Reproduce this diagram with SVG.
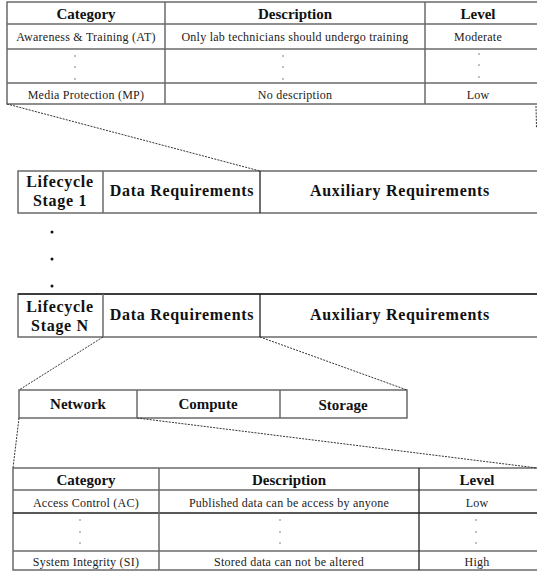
<svg xmlns="http://www.w3.org/2000/svg" width="537" height="571" viewBox="0 0 537 571">
  <style>
    .cell { fill: #ffffff; stroke: #6a6a6a; stroke-width: 1.5; }
    .grid { stroke: #6a6a6a; stroke-width: 1.5; fill: none; }
    .dark { stroke: #222222; stroke-width: 1.3; fill: none; }
    .zoom { stroke: #333333; stroke-width: 1; stroke-dasharray: 2 1.2; fill: none; }
    text { font-family: 'Liberation Serif', 'DejaVu Serif', serif; text-anchor: middle; }
    .hd { font-weight: bold; font-size: 15px; fill: #111; }
    .tx { font-size: 12px; fill: #222; letter-spacing: 0.25px; }
    .big { font-weight: bold; font-size: 16px; fill: #111; letter-spacing: 0.7px; }
    .dot { fill: #555; }
    .bdot { fill: #111; }
  </style>

  <rect width="537" height="571" fill="#ffffff"/>

  <!-- Top table: categories for one lifecycle stage -->
  <g id="table-top">
    <rect class="cell" x="7" y="2" width="532" height="102"/>
    <line class="grid" x1="7" y1="24" x2="539" y2="24"/>
    <line class="grid" x1="7" y1="49" x2="539" y2="49"/>
    <line class="grid" x1="7" y1="83" x2="539" y2="83"/>
    <line class="grid" x1="165" y1="2" x2="165" y2="104"/>
    <line class="grid" x1="425" y1="2" x2="425" y2="104"/>
    <text class="hd" x="86" y="19">Category</text>
    <text class="hd" x="295" y="19">Description</text>
    <text class="hd" x="478" y="19">Level</text>
    <text class="tx" x="86" y="41">Awareness &amp; Training (AT)</text>
    <text class="tx" x="295" y="41">Only lab technicians should undergo training</text>
    <text class="tx" x="478" y="41">Moderate</text>
    <circle class="dot" cx="75" cy="56" r="0.7"/>
    <circle class="dot" cx="75" cy="67" r="0.7"/>
    <circle class="dot" cx="75" cy="79" r="0.7"/>
    <circle class="dot" cx="283" cy="56" r="0.7"/>
    <circle class="dot" cx="283" cy="67" r="0.7"/>
    <circle class="dot" cx="283" cy="79" r="0.7"/>
    <circle class="dot" cx="479" cy="54" r="0.7"/>
    <circle class="dot" cx="479" cy="65" r="0.7"/>
    <circle class="dot" cx="479" cy="77" r="0.7"/>
    <text class="tx" x="86" y="99">Media Protection (MP)</text>
    <text class="tx" x="295" y="99">No description</text>
    <text class="tx" x="478" y="99">Low</text>
  </g>

  <!-- Lifecycle stage 1 -->
  <g id="stage-1">
    <rect class="cell" x="18" y="171" width="521" height="42"/>
    <line class="grid" x1="103" y1="171" x2="103" y2="213"/>
    <line class="dark" x1="260" y1="171" x2="260" y2="213"/>
    <text class="big" x="60" y="187">Lifecycle</text>
    <text class="big" x="60" y="206">Stage 1</text>
    <text class="big" x="182" y="196">Data Requirements</text>
    <text class="big" x="400" y="196">Auxiliary Requirements</text>
  </g>

  <!-- Elided stages -->
  <g id="ellipsis">
    <circle class="bdot" cx="52" cy="232" r="1.5"/>
    <circle class="bdot" cx="52" cy="259" r="1.5"/>
    <circle class="bdot" cx="52" cy="286" r="1.5"/>
  </g>

  <!-- Lifecycle stage N -->
  <g id="stage-n">
    <rect class="cell" x="18" y="294" width="521" height="43"/>
    <line class="dark" x1="18" y1="294" x2="539" y2="294"/>
    <line class="grid" x1="103" y1="294" x2="103" y2="337"/>
    <line class="dark" x1="260" y1="294" x2="260" y2="337"/>
    <text class="big" x="60" y="312">Lifecycle</text>
    <text class="big" x="60" y="331">Stage N</text>
    <text class="big" x="182" y="320">Data Requirements</text>
    <text class="big" x="400" y="320">Auxiliary Requirements</text>
  </g>

  <!-- Data requirement domains -->
  <g id="domains">
    <rect class="cell" x="19" y="390" width="388" height="28"/>
    <line class="grid" x1="137" y1="390" x2="137" y2="418"/>
    <line class="grid" x1="280" y1="390" x2="280" y2="418"/>
    <text class="hd" x="78" y="409">Network</text>
    <text class="hd" x="208" y="409">Compute</text>
    <text class="hd" x="343" y="410">Storage</text>
  </g>

  <!-- Bottom table: categories for the network domain -->
  <g id="table-bottom">
    <rect class="cell" x="13" y="468" width="526" height="102"/>
    <line class="grid" x1="13" y1="490" x2="539" y2="490"/>
    <line class="dark" x1="13" y1="513" x2="539" y2="513"/>
    <line class="grid" x1="13" y1="551" x2="539" y2="551"/>
    <line class="grid" x1="159" y1="468" x2="159" y2="570"/>
    <line class="dark" x1="419" y1="468" x2="419" y2="570"/>
    <text class="hd" x="86" y="485">Category</text>
    <text class="hd" x="289" y="485">Description</text>
    <text class="hd" x="477" y="485">Level</text>
    <text class="tx" x="86" y="507">Access Control (AC)</text>
    <text class="tx" x="289" y="507">Published data can be access by anyone</text>
    <text class="tx" x="477" y="507">Low</text>
    <circle class="dot" cx="80" cy="520" r="0.7"/>
    <circle class="dot" cx="80" cy="532" r="0.7"/>
    <circle class="dot" cx="80" cy="543" r="0.7"/>
    <circle class="dot" cx="280" cy="520" r="0.7"/>
    <circle class="dot" cx="280" cy="532" r="0.7"/>
    <circle class="dot" cx="280" cy="543" r="0.7"/>
    <circle class="dot" cx="476" cy="520" r="0.7"/>
    <circle class="dot" cx="476" cy="532" r="0.7"/>
    <circle class="dot" cx="476" cy="543" r="0.7"/>
    <text class="tx" x="86" y="566">System Integrity (SI)</text>
    <text class="tx" x="289" y="566">Stored data can not be altered</text>
    <text class="tx" x="477" y="566">High</text>
  </g>

  <!-- Zoom-out guide lines -->
  <g id="connectors">
    <line class="zoom" x1="7" y1="104" x2="260" y2="171"/>
    <line class="zoom" x1="536" y1="106" x2="536.5" y2="128"/>
    <line class="zoom" x1="103" y1="337" x2="19" y2="390"/>
    <line class="zoom" x1="260" y1="337" x2="407" y2="390"/>
    <line class="zoom" x1="19" y1="418" x2="13" y2="468"/>
    <line class="zoom" x1="137" y1="418" x2="537" y2="468"/>
  </g>
</svg>
